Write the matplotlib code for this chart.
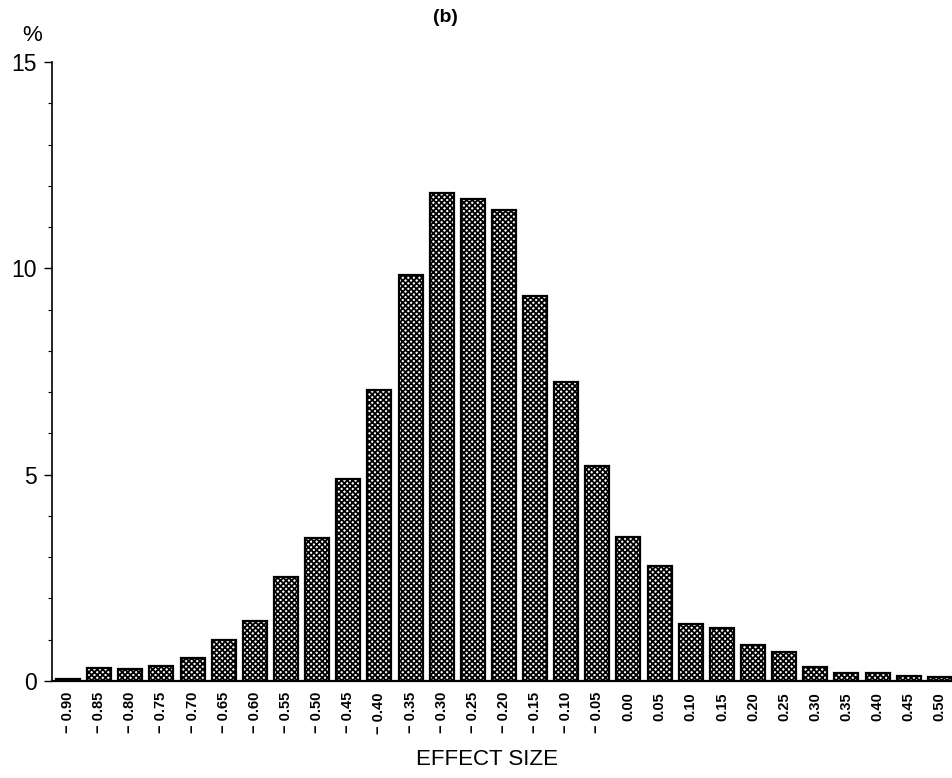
import numpy as np
import matplotlib
matplotlib.use("Agg")
import matplotlib.pyplot as plt
from matplotlib.ticker import MultipleLocator

# effect size bins and percentage of studies in each
effect_sizes = ["-0.90", "-0.85", "-0.80", "-0.75", "-0.70", "-0.65", "-0.60",
                "-0.55", "-0.50", "-0.45", "-0.40", "-0.35", "-0.30", "-0.25",
                "-0.20", "-0.15", "-0.10", "-0.05", "0.00", "0.05", "0.10",
                "0.15", "0.20", "0.25", "0.30", "0.35", "0.40", "0.45", "0.50"]
percent = [0.05, 0.32, 0.29, 0.37, 0.56, 1.00, 1.46, 2.51, 3.46, 4.90,
           7.05, 9.83, 11.83, 11.68, 11.41, 9.32, 7.24, 5.20, 3.49, 2.78,
           1.39, 1.29, 0.88, 0.71, 0.34, 0.20, 0.20, 0.12, 0.10]

y_ticks = [0, 5, 10, 15]

plt.rcParams["font.family"] = ["Liberation Sans", "DejaVu Sans"]
plt.rcParams["hatch.linewidth"] = 1.3

fig = plt.figure(figsize=(9.52, 7.78), dpi=100)
ax = fig.add_axes([0.0546, 0.1247, 0.9454, 0.7956])

x = np.arange(len(effect_sizes))
ax.bar(x, percent, width=0.77, color="white", edgecolor="black",
       hatch="xxxxxx", linewidth=1.6)

ax.set_xlim(-0.515, len(effect_sizes) - 1 + 0.39)
ax.set_ylim(0, 15)

ax.spines["top"].set_visible(False)
ax.spines["right"].set_visible(False)
ax.spines["left"].set_linewidth(1.2)
ax.spines["bottom"].set_linewidth(1.6)

ax.set_yticks(y_ticks)
ax.set_yticklabels([str(t) for t in y_ticks], fontsize=16.5)
ax.yaxis.set_minor_locator(MultipleLocator(1))
ax.tick_params(axis="y", which="major", direction="out", length=6, width=1.0, pad=5)
ax.tick_params(axis="y", which="minor", direction="out", length=3, width=0.8)

labels = [s.replace("-", "\u2212 ") for s in effect_sizes]
ax.set_xticks(x)
ax.set_xticklabels(labels, rotation=90, fontsize=10.5, fontweight="bold")
ax.tick_params(axis="x", length=0, pad=8)

ax.set_xlabel("EFFECT SIZE", fontsize=16, labelpad=12)
ax.xaxis.set_label_coords(0.483, -0.11)
fig.text(0.034, 0.955, "%", fontsize=16, ha="center", va="center")
fig.text(0.468, 0.977, "(b)", fontsize=14, ha="center", va="center",
         fontweight="bold")

fig.savefig("out.png", dpi=100)
